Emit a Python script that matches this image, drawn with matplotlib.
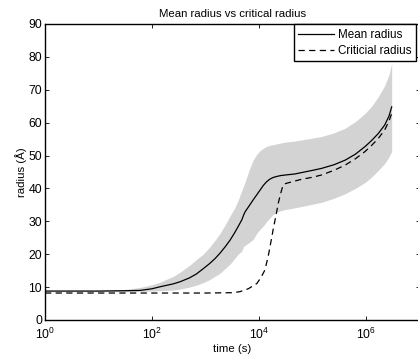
import numpy as np
import matplotlib
matplotlib.use("Agg")
import matplotlib.pyplot as plt

plt.rcParams['font.family'] = ['Liberation Sans', 'DejaVu Sans']
plt.rcParams['mathtext.fontset'] = 'custom'
plt.rcParams['mathtext.rm'] = 'Liberation Sans'

# time grid (log10 of seconds) for mean radius and spread band
log_t = [0, 0.5, 1, 1.5, 1.78, 2.0, 2.15, 2.4, 2.52, 2.7, 2.83, 2.95, 3.08,
         3.18, 3.27, 3.37, 3.46, 3.54, 3.61, 3.68, 3.71, 3.74, 3.82, 3.89,
         3.96, 4.02, 4.08, 4.14, 4.2, 4.26, 4.32, 4.4, 4.5, 4.67, 4.85, 5.0,
         5.17, 5.4, 5.61, 5.8, 5.98, 6.1, 6.23, 6.35, 6.43, 6.48]
mean_r = [8.8, 8.8, 8.8, 8.9, 9.0, 9.5, 10.1, 11.0, 11.6, 12.8, 14.0, 15.5,
          17.2, 18.7, 20.3, 22.3, 24.3, 26.4, 28.4, 30.5, 31.8, 32.9, 34.8,
          36.5, 38.1, 39.5, 40.9, 42.0, 42.8, 43.3, 43.6, 43.9, 44.1, 44.4,
          45.0, 45.5, 46.1, 47.2, 48.6, 50.4, 52.7, 54.5, 56.7, 59.3, 62.0, 64.8]
upper_r = [8.9, 8.9, 9.0, 9.3, 9.9, 10.7, 11.5, 13.3, 14.5, 16.6, 18.4, 19.9,
           22.2, 24.3, 26.3, 29.0, 31.7, 33.9, 36.4, 39.4, 40.7, 42.0, 45.8,
           48.6, 50.4, 51.5, 52.2, 52.8, 53.1, 53.3, 53.5, 53.8, 54.1, 54.4,
           54.9, 55.3, 55.8, 56.9, 58.3, 60.3, 62.8, 64.9, 67.9, 71.3, 74.6, 78.0]
lower_r = [8.6, 8.6, 8.6, 8.6, 8.7, 8.8, 8.9, 9.1, 9.4, 10.0, 10.6, 11.3,
           12.3, 13.3, 14.2, 15.7, 17.0, 18.6, 20.0, 21.0, 22.4, 22.7, 23.6,
           24.5, 26.4, 27.6, 28.6, 29.9, 31.0, 32.0, 32.7, 33.2, 33.6, 34.1,
           34.7, 35.2, 35.8, 37.0, 38.4, 40.0, 41.8, 43.4, 45.5, 47.6, 49.6, 51.2]

# critical radius
log_t_crit = [0, 1, 2, 3, 3.5, 3.64, 3.8, 3.96, 4.04, 4.11, 4.17, 4.22,
              4.27, 4.32, 4.36, 4.41, 4.45, 4.5, 4.61, 4.8, 5.0, 5.17, 5.4,
              5.61, 5.8, 5.98, 6.1, 6.23, 6.35, 6.43, 6.48]
crit_r = [8.2, 8.2, 8.2, 8.2, 8.3, 8.6, 9.5, 11.1, 13.0, 15.2, 19.2, 23.5,
          28.0, 32.0, 35.5, 38.8, 41.0, 41.5, 42.0, 42.8, 43.4, 44.1, 45.5,
          47.1, 49.0, 51.2, 53.0, 55.2, 57.8, 60.5, 62.8]

t = 10.0 ** np.array(log_t)
t_crit = 10.0 ** np.array(log_t_crit)

W, H = 418, 358
ax_l, ax_r, ax_t, ax_b = 45, 419.5, 24, 320
fig = plt.figure(figsize=(W / 100, H / 100), dpi=100)
ax = fig.add_axes([ax_l / W, 1 - ax_b / H, (ax_r - ax_l) / W, (ax_b - ax_t) / H])

ax.fill_between(t, lower_r, upper_r, color='#d3d3d3', linewidth=0)
ax.plot(t, mean_r, 'k-', lw=0.9, label='Mean radius')
ax.plot(t_crit, crit_r, 'k--', lw=0.9, dashes=(5, 3.5), label='Criticial radius')

ax.set_xscale('log')
ax.set_xlim(1, 1e7)
ax.set_ylim(0, 90)
ax.set_xticks([1, 1e2, 1e4, 1e6])
ax.xaxis.set_minor_locator(matplotlib.ticker.NullLocator())
ax.set_yticks(range(0, 91, 10))
ax.tick_params(direction='in', length=3, width=0.6, labelsize=8.8,
               top=True, right=True)
ax.tick_params(axis='x', pad=5)
ax.tick_params(axis='y', pad=2)
for s in ax.spines.values():
    s.set_linewidth(1.0)

ax.set_title('Mean radius vs critical radius', fontsize=8.2, pad=5)
ax.set_xlabel('time (s)', fontsize=8.2, labelpad=1)
ax.set_ylabel('radius (Å)', fontsize=8.2, labelpad=1)

leg = ax.legend(loc='upper right', bbox_to_anchor=((416 - ax_l) / (ax_r - ax_l), 1.0),
                fontsize=8.4, frameon=True, fancybox=False, edgecolor='k',
                framealpha=1, borderpad=0.4, handlelength=3.1, handletextpad=0.3,
                labelspacing=0.35, borderaxespad=0)
leg.get_frame().set_linewidth(1.0)

fig.savefig('out.png', dpi=100)
